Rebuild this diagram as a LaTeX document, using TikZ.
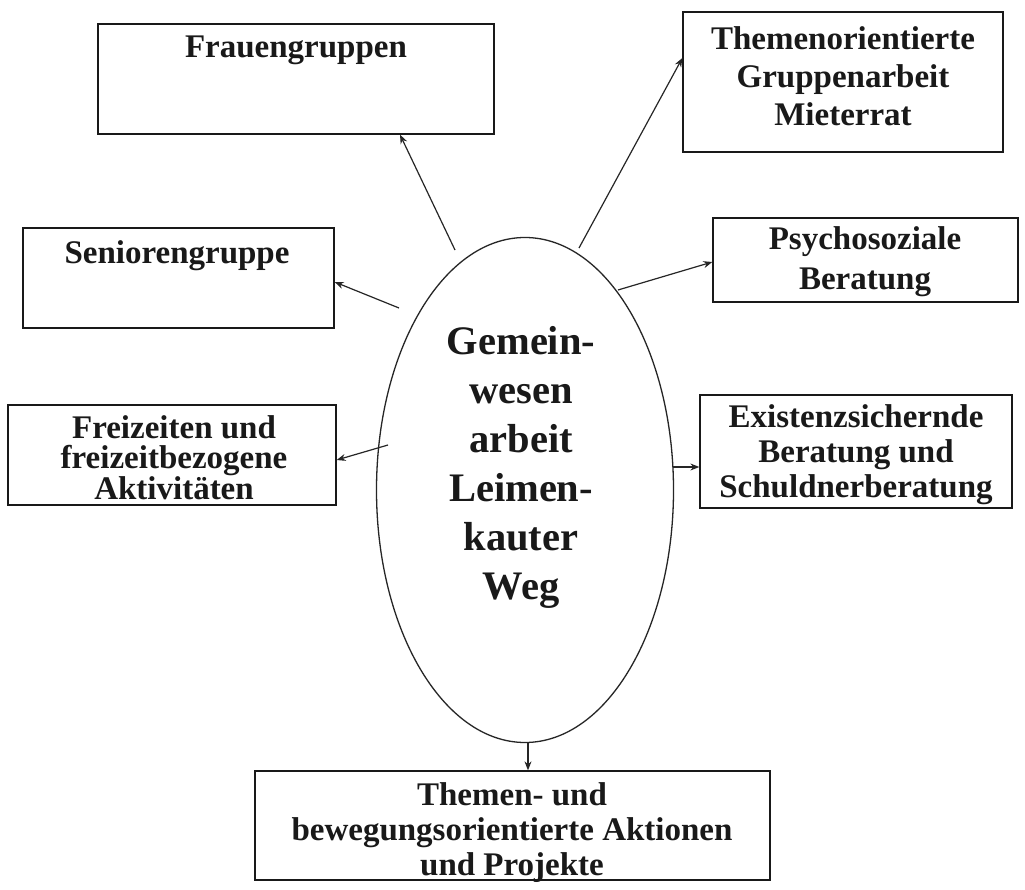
\documentclass[tikz,border=0pt]{standalone}
\usepackage{fontspec}
\setmainfont{Liberation Serif}
\usetikzlibrary{arrows.meta,shapes.geometric}
\tikzset{
  boxshape/.style={draw=black!90, line width=1.3pt, rectangle, inner sep=0pt},
  boxtext/.style={font=\fontsize{33}{35}\selectfont\bfseries, align=center, inner sep=0pt, text=black!90},
  conn/.style={draw=black!85, line width=1.2pt, -{Stealth[length=9pt,width=7pt]}},
}
\begin{document}
\begin{tikzpicture}[x=1pt,y=-1pt]
\useasboundingbox[fill=white] (0,0) rectangle (1025,890);

% central ellipse
\node[draw=black!85, line width=1.3pt, ellipse, minimum width=297pt, minimum height=505pt, inner sep=0pt] (ell) at (525,490) {};
\node[font=\fontsize{40.5}{49}\selectfont\bfseries, align=center, inner sep=0pt, text=black!90] (elltext) at (521,467)
  {Gemein-\\wesen\\arbeit\\Leimen-\\kauter\\Weg};

% boxes
\node[boxshape, minimum width=396pt, minimum height=110pt] (fr) at (296,79) {};
\node[boxtext] (frt) at (296,50) {Frauengruppen};

\node[boxshape, minimum width=320pt, minimum height=140pt] (th) at (843,82) {};
\node[boxtext, font=\fontsize{33}{38}\selectfont\bfseries] (tht) at (843,76) {Themenorientierte\\Gruppenarbeit\\Mieterrat};

\node[boxshape, minimum width=305pt, minimum height=84pt] (ps) at (865.5,260) {};
\node[boxtext, font=\fontsize{33}{40}\selectfont\bfseries] (pst) at (865,262) {Psychosoziale\\Beratung};

\node[boxshape, minimum width=311pt, minimum height=100pt] (se) at (178.5,278) {};
\node[boxtext] (set) at (177,256) {Seniorengruppe};

\node[boxshape, minimum width=328pt, minimum height=100pt] (fz) at (172,455) {};
\node[boxtext, font=\fontsize{33}{30}\selectfont\bfseries] (fzt) at (174,458) {Freizeiten und\\freizeitbezogene\\Aktivitäten};

\node[boxshape, minimum width=312pt, minimum height=113pt] (ex) at (856,451.5) {};
\node[boxtext] (ext) at (856,455) {Existenzsichernde\\Beratung und\\Schuldnerberatung};

\node[boxshape, minimum width=515pt, minimum height=109pt] (bt) at (512.5,825.5) {};
\node[boxtext] (btt) at (512,833) {Themen- und\\bewegungsorientierte Aktionen\\und Projekte};

% start points of connectors
\coordinate (s1) at (455,250);
\coordinate (s2) at (399,308);
\coordinate (s3) at (388,445);
\coordinate (s4) at (579,248);
\coordinate (s5) at (618,290);
\coordinate (s6) at (673,467);
\coordinate (s7) at (528,742);

% connectors
\draw[conn] (s1) -- ([xshift=104pt]fr.south);
\draw[conn] (s2) -- ([yshift=-4pt]se.east);
\draw[conn] (s3) -- ([yshift=-5pt]fz.east);
\draw[conn] (s4) -- ([yshift=24pt]th.west);
\draw[conn] (s5) -- ([yshift=-2pt]ps.west);
\draw[conn] (s6) -- ([yshift=-15.5pt]ex.west);
\draw[conn] (s7) -- ([xshift=15.5pt]bt.north);
\end{tikzpicture}
\end{document}
